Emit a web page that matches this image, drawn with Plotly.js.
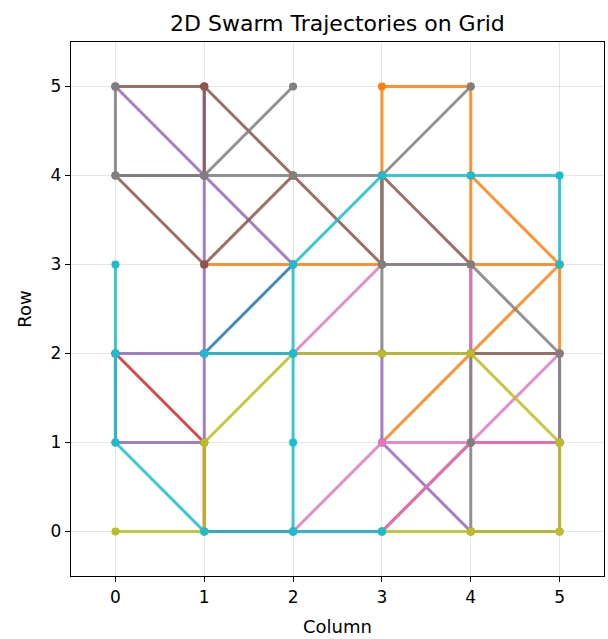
<!DOCTYPE html>
<html>
<head>
<meta charset="utf-8">
<script src="https://cdn.plot.ly/plotly-3.0.1.min.js"></script>
<style>html,body{margin:0;padding:0;background:#fff;}#chart{width:608px;height:639px;}</style>
</head>
<body>
<div id="chart"></div>
<script>
// Agent trajectories as [column, row] pairs, in drawing order (tab10 colours)
const agentNames = ["Agent 0","Agent 1","Agent 3","Agent 4","Agent 5","Agent 6","Agent 7","Agent 8","Agent 9"];
const agentColors = ["#1f77b4","#ff7f0e","#d62728","#9467bd","#8c564b","#e377c2","#7f7f7f","#bcbd22","#17becf"];
const pathBlue   = [[1,2],[2,3]];
const pathOrange = [[1,3],[2,3],[3,3],[3,4],[3,5],[4,5],[4,4],[5,3],[5,2],[5,3],[4,4],[4,3],[5,3],[4,2],[3,1]];
const pathRed    = [[0,2],[1,1],[1,0],[2,0],[3,0],[4,1],[5,1]];
const pathPurple = [[1,5],[1,4],[0,5],[1,4],[2,3],[1,4],[1,3],[1,2],[0,2],[0,1],[1,1],[1,2],[2,2],[3,2],[3,1],[4,0]];
const pathBrown  = [[0,5],[1,5],[1,4],[0,4],[1,3],[2,4],[1,5],[2,4],[3,3],[3,4],[4,3],[4,2],[5,2]];
const pathPink   = [[2,2],[3,3],[4,3],[4,2],[4,1],[3,1],[2,0],[3,0],[4,1],[5,2],[5,1],[4,1],[3,0]];
const pathGray   = [[4,5],[3,4],[3,3],[4,3],[5,2],[5,1],[5,0],[4,0],[4,1],[4,2],[3,2],[3,3],[3,4],[2,4],[1,4],[2,5],[1,4],[0,4],[0,5]];
const pathOlive  = [[0,0],[1,0],[1,1],[2,2],[3,2],[4,2],[5,1],[5,0],[4,0],[3,0]];
const pathCyan   = [[0,3],[0,2],[0,1],[1,0],[2,0],[3,0],[2,0],[2,1],[2,2],[1,2],[2,2],[2,3],[3,4],[4,4],[5,4],[5,3]];
const paths = [pathBlue,pathOrange,pathRed,pathPurple,pathBrown,pathPink,pathGray,pathOlive,pathCyan];
const tickVals = [0,1,2,3,4,5];

function hexToRgba(h,a){const n=parseInt(h.slice(1),16);return `rgba(${(n>>16)&255},${(n>>8)&255},${n&255},${a})`;}

const traces = paths.map((p,i)=>({
  type:'scatter', mode:'lines+markers', name:agentNames[i],
  x:p.map(q=>q[0]), y:p.map(q=>q[1]),
  line:{color:hexToRgba(agentColors[i],0.85), width:3},
  marker:{color:agentColors[i], size:8},
  hoverinfo:'x+y+name'
}));

const axisCommon = {
  range:[-0.5,5.5], tickvals:tickVals, ticks:'outside', ticklen:5, tickwidth:1, tickcolor:'#000',
  showline:true, linecolor:'#000', linewidth:1.2, mirror:true,
  showgrid:true, gridcolor:'rgba(0,0,0,0.1)', gridwidth:1, zeroline:false,
  tickfont:{family:'DejaVu Sans', size:17, color:'#000'}
};

const layout = {
  width:608, height:639,
  margin:{l:71, r:4, t:42, b:63},
  paper_bgcolor:'#fff', plot_bgcolor:'#fff',
  showlegend:false,
  title:{text:'2D Swarm Trajectories on Grid', x:0.555, xanchor:'center', y:0.975, yanchor:'top',
         font:{family:'DejaVu Sans', size:22, color:'#000'}},
  xaxis:Object.assign({}, axisCommon, {title:{text:'Column', standoff:14, font:{family:'DejaVu Sans', size:18, color:'#000'}}}),
  yaxis:Object.assign({}, axisCommon, {title:{text:'Row', standoff:14, font:{family:'DejaVu Sans', size:18, color:'#000'}}})
};

Plotly.newPlot('chart', traces, layout, {displayModeBar:false, staticPlot:true});
</script>
</body>
</html>
